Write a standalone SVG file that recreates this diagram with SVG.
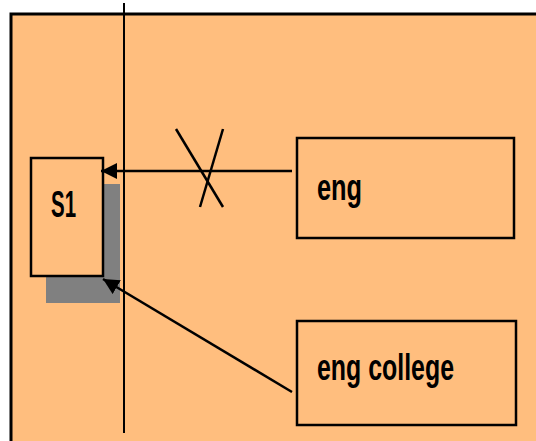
<svg xmlns="http://www.w3.org/2000/svg" width="536" height="441" viewBox="0 0 536 441">
<style>
.box{fill:#FFBE7E;stroke:#000;stroke-width:2.5}
.lbl{font-family:"Liberation Sans","Open Sans",sans-serif;font-weight:bold;font-size:37px;fill:#000}
.conn{stroke:#000;stroke-width:2.5;fill:none}
</style>
<defs>
<marker id="ah2" markerWidth="16" markerHeight="16" refX="16" refY="8" orient="auto" markerUnits="userSpaceOnUse" viewBox="0 0 16 16">
<path d="M0,0 L16,8 L0,16 z" fill="#000"/>
</marker>
</defs>
<rect x="0" y="0" width="536" height="441" fill="#fff"/>
<rect x="11" y="14" width="530" height="432" fill="#FFBE7E" stroke="#000" stroke-width="3"/>
<line x1="124" y1="3" x2="124" y2="433" stroke="#000" stroke-width="2"/>
<g id="s1">
<rect x="46" y="184" width="74" height="119" fill="#808080"/>
<rect class="box" x="31" y="158" width="72" height="118"/>
<text class="lbl" x="51" y="217" font-size="34" textLength="25" lengthAdjust="spacingAndGlyphs">S1</text>
</g>
<g id="eng">
<rect class="box" x="297" y="138" width="217" height="100"/>
<text class="lbl" x="317" y="200" textLength="45" lengthAdjust="spacingAndGlyphs">eng</text>
</g>
<g id="engcollege">
<rect class="box" x="297" y="321" width="219" height="104"/>
<text class="lbl" x="317" y="380" textLength="137" lengthAdjust="spacingAndGlyphs">eng college</text>
</g>
<g id="connectors">
<line class="conn" x1="292" y1="171" x2="101" y2="171" marker-end="url(#ah2)"/>
<line class="conn" x1="176" y1="129" x2="223" y2="207"/>
<line class="conn" x1="223" y1="129" x2="200" y2="207" stroke-width="2"/>
<line class="conn" x1="292" y1="392" x2="103" y2="279" marker-end="url(#ah2)"/>
</g>
</svg>
